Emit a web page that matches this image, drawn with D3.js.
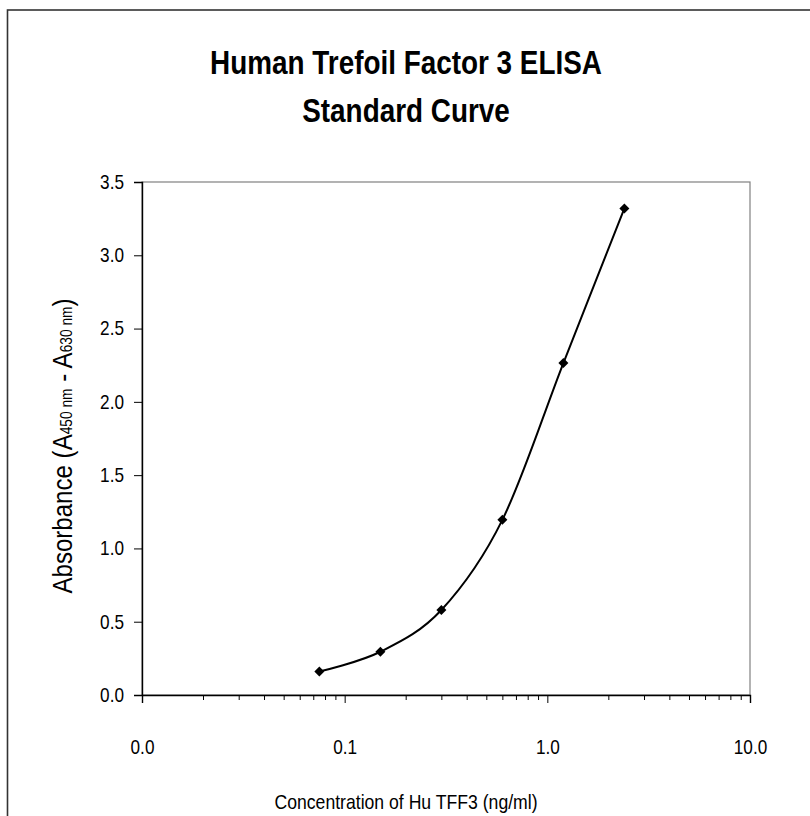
<!DOCTYPE html>
<html>
<head>
<meta charset="utf-8">
<script src="https://cdn.jsdelivr.net/npm/d3@7"></script>
<style>
html,body{margin:0;padding:0;background:#fff;}
svg{display:block;}
</style>
</head>
<body>
<svg id="chart" width="810" height="816"></svg>
<script>
// ---- data ----
const concentrations = [0.075, 0.15, 0.3, 0.6, 1.2, 2.4];
const absorbance = [0.16, 0.295, 0.58, 1.195, 2.265, 3.32];
const xTickValues = [0.01, 0.1, 1, 10];
const xTickLabels = ["0.0", "0.1", "1.0", "10.0"];
const yTickValues = [0, 0.5, 1.0, 1.5, 2.0, 2.5, 3.0, 3.5];
const titleLines = ["Human Trefoil Factor 3 ELISA", "Standard Curve"];
const xTitle = "Concentration of Hu TFF3 (ng/ml)";

const svg = d3.select("#chart");
const W = 810, H = 816;
const font = "'Liberation Sans Narrow','Arial Narrow','Liberation Sans',Arial,sans-serif";
const SX = 0.86; // horizontal condensing to mimic a narrow face

svg.append("rect").attr("width", W).attr("height", H).attr("fill", "#fff");
// outer chart frame (extends beyond right/bottom edges)
svg.append("rect").attr("x", 7.5).attr("y", 10).attr("width", 830).attr("height", 830)
  .attr("fill", "none").attr("stroke", "#333").attr("stroke-width", 1.6);

const m = {left: 142, right: 750, top: 182, bottom: 695};
const x = d3.scaleLog().domain([0.01, 10]).range([m.left, m.right]);
const y = d3.scaleLinear().domain([0, 3.5]).range([m.bottom, m.top]);

// title
const t = svg.append("text").attr("text-anchor", "middle")
  .attr("transform", `translate(406,0) scale(0.82,1)`)
  .attr("font-family", font).attr("font-weight", "bold").attr("font-size", 34).attr("fill", "#000");
titleLines.forEach((s, i) => t.append("tspan").attr("x", 0).attr("y", 74 + i * 48).text(s));

// plot area border
svg.append("rect").attr("x", m.left).attr("y", m.top).attr("width", m.right - m.left).attr("height", m.bottom - m.top)
  .attr("fill", "none").attr("stroke", "#808080").attr("stroke-width", 1.2);

// x axis with minor log ticks
const minor = [];
for (let d = 0.01; d < 10; d *= 10) for (let k = 2; k <= 9; k++) minor.push(+(d * k).toPrecision(3));
const xMinor = d3.axisBottom(x).tickValues(minor).tickSize(5).tickFormat("");
svg.append("g").attr("transform", `translate(0,${m.bottom})`).call(xMinor)
  .call(g => g.select(".domain").remove())
  .call(g => g.selectAll("line").attr("stroke", "#000"));
const xAxis = d3.axisBottom(x).tickValues(xTickValues).tickSize(8).tickPadding(37)
  .tickFormat((d, i) => xTickLabels[i]);
svg.append("g").attr("transform", `translate(0,${m.bottom})`).call(xAxis)
  .call(g => g.select(".domain").attr("stroke", "#000").attr("stroke-width", 1.4))
  .call(g => g.selectAll("line").attr("stroke", "#000"))
  .call(g => g.selectAll("text").attr("font-family", font).attr("font-size", 20).attr("fill", "#000")
    .attr("transform", `scale(${SX},1)`));

// y axis
const yAxis = d3.axisLeft(y).tickValues(yTickValues).tickSize(8).tickPadding(10).tickFormat(d3.format(".1f"));
svg.append("g").attr("transform", `translate(${m.left},0)`).call(yAxis)
  .call(g => g.select(".domain").attr("stroke", "#000").attr("stroke-width", 1.4))
  .call(g => g.selectAll("line").attr("stroke", "#000"))
  .call(g => g.selectAll("text").attr("font-family", font).attr("font-size", 20).attr("fill", "#000")
    .attr("x", -18 / SX).attr("transform", `scale(${SX},1)`));

// axis titles
svg.append("text").attr("transform", `translate(406,809) scale(${SX},1)`).attr("text-anchor", "middle")
  .attr("font-family", font).attr("font-size", 20.5).attr("fill", "#000").text(xTitle);

const yt = svg.append("text").attr("transform", `translate(72,446) rotate(-90) scale(${SX},1)`)
  .attr("text-anchor", "middle").attr("font-family", font).attr("font-size", 28).attr("fill", "#000");
yt.append("tspan").text("Absorbance (A");
yt.append("tspan").attr("font-size", 16).text("450 nm");
yt.append("tspan").text(" - A");
yt.append("tspan").attr("font-size", 16).text("630 nm");
yt.append("tspan").text(")");

// data
const pts = concentrations.map((c, i) => [c, absorbance[i]]);
const line = d3.line().x(d => x(d[0])).y(d => y(d[1])).curve(d3.curveCardinal.tension(0));
svg.append("path").datum(pts).attr("d", line).attr("fill", "none").attr("stroke", "#000").attr("stroke-width", 2);
svg.selectAll(".pt").data(pts).enter().append("path")
  .attr("transform", d => `translate(${x(d[0])},${y(d[1])}) rotate(45)`)
  .attr("d", d3.symbol(d3.symbolSquare, 50)).attr("fill", "#000");
</script>
</body>
</html>
